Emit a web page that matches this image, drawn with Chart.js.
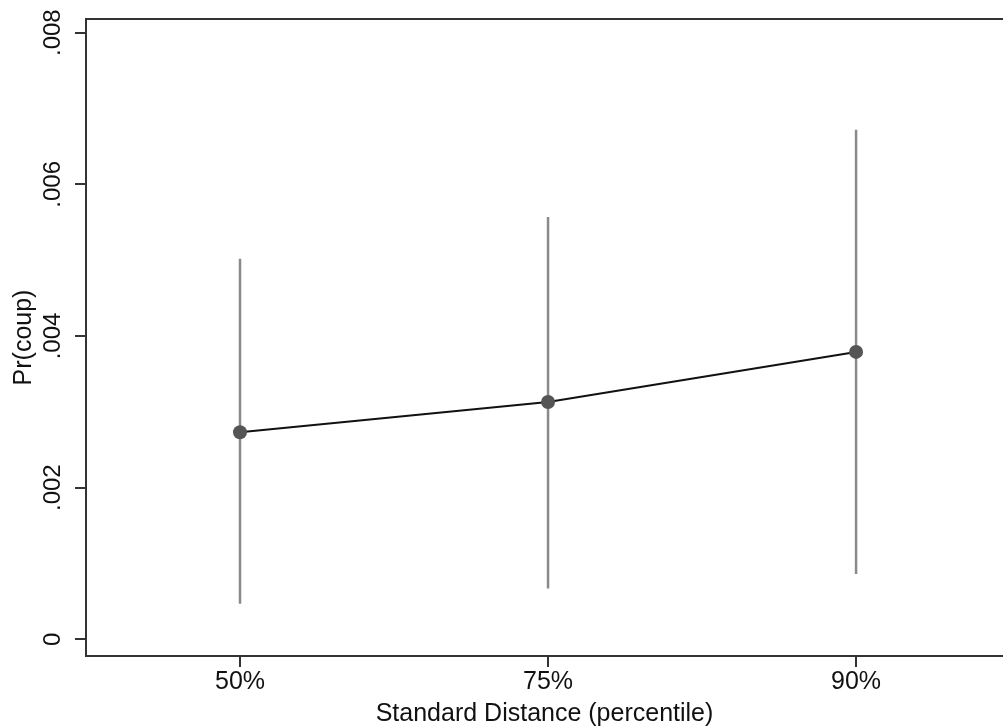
<!DOCTYPE html>
<html>
<head>
<meta charset="utf-8">
<script src="https://cdn.jsdelivr.net/npm/chart.js@4/dist/chart.umd.min.js"></script>
<style>
  html, body { margin: 0; padding: 0; background: #fff; overflow: hidden; }
  #wrap { width: 1003px; height: 728px; }
</style>
</head>
<body>
<div id="wrap"><canvas id="grafica"></canvas></div>
<script>
// datos
const categorias = ['50%', '75%', '90%'];
const posiciones = [1, 2, 3];
const prob = [0.00273, 0.00313, 0.00379];
const limInf = [0.00047, 0.00067, 0.00086];
const limSup = [0.00502, 0.00557, 0.00672];
const ticksY = [0, 0.002, 0.004, 0.006, 0.008];

const fuente = "'Liberation Sans', Arial, Helvetica, sans-serif";
const colorEje = '#333333';

// una línea vertical por cada intervalo de confianza
const barrasError = posiciones.map((x, i) => ({
    type: 'line',
    data: [{ x: x, y: limInf[i] }, { x: x, y: limSup[i] }],
    borderColor: '#8a8a8a',
    borderWidth: 2.5,
    pointRadius: 0,
    order: 2
}));

// marco superior del área de trazado
const marcoSuperior = {
    id: 'marcoSuperior',
    afterDraw(chart) {
        const { ctx, chartArea } = chart;
        ctx.save();
        ctx.strokeStyle = colorEje;
        ctx.lineWidth = 2;
        ctx.beginPath();
        ctx.moveTo(chartArea.left, chartArea.top);
        ctx.lineTo(chartArea.right, chartArea.top);
        ctx.stroke();
        ctx.restore();
    }
};

new Chart(document.getElementById('grafica').getContext('2d'), {
    type: 'line',
    data: {
        datasets: [
            {
                data: posiciones.map((x, i) => ({ x: x, y: prob[i] })),
                borderColor: '#111111',
                borderWidth: 2,
                pointRadius: 7,
                pointBackgroundColor: '#555555',
                pointBorderColor: '#555555',
                pointBorderWidth: 0,
                order: 1
            },
            ...barrasError
        ]
    },
    options: {
        responsive: true,
        maintainAspectRatio: false,
        animation: false,
        events: [],
        layout: { autoPadding: false, padding: { top: 19, right: 0, left: 0, bottom: 0 } },
        scales: {
            x: {
                type: 'linear',
                min: 0.5,
                max: 3.477,
                afterBuildTicks: (scale) => { scale.ticks = posiciones.map(v => ({ value: v })); },
                afterFit: (scale) => { scale.height = 72; },
                grid: { drawOnChartArea: false, drawTicks: true, tickLength: 11, color: colorEje, lineWidth: 2 },
                border: { display: true, color: colorEje, width: 2 },
                ticks: {
                    color: '#111',
                    padding: 0,
                    font: { family: fuente, size: 25 },
                    callback: (v) => categorias[posiciones.indexOf(v)]
                },
                title: {
                    display: true,
                    text: 'Standard Distance (percentile)',
                    color: '#111',
                    padding: { top: 0, bottom: 0 },
                    font: { family: fuente, size: 25, lineHeight: 1.1 }
                }
            },
            y: {
                min: -0.00022,
                max: 0.00818,
                afterBuildTicks: (scale) => { scale.ticks = ticksY.map(v => ({ value: v })); },
                afterFit: (scale) => { scale.width = 86; },
                grid: { drawOnChartArea: false, drawTicks: true, tickLength: 11, color: colorEje, lineWidth: 2 },
                border: { display: true, color: colorEje, width: 2 },
                ticks: {
                    color: '#111',
                    autoSkip: false,
                    minRotation: 90,
                    maxRotation: 90,
                    crossAlign: 'center',
                    padding: -2,
                    font: { family: fuente, size: 24 },
                    callback: (v) => v === 0 ? '0' : v.toFixed(3).replace(/^0/, '')
                },
                title: {
                    display: true,
                    text: 'Pr(coup)',
                    color: '#111',
                    padding: { top: 10, bottom: 0 },
                    font: { family: fuente, size: 25, lineHeight: 1.1 }
                }
            }
        },
        plugins: {
            legend: { display: false },
            tooltip: { enabled: false }
        }
    },
    plugins: [marcoSuperior]
});
</script>
</body>
</html>
